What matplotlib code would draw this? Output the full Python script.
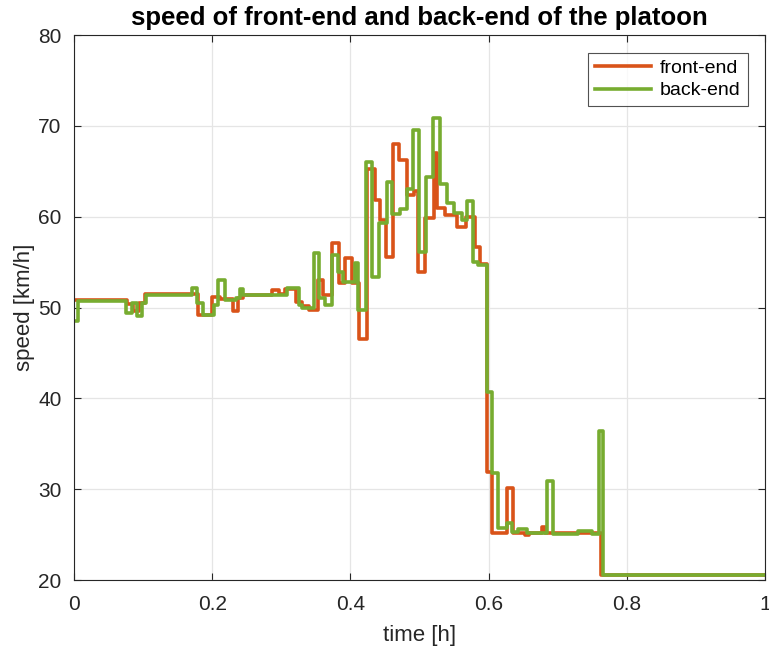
import matplotlib
matplotlib.use("Agg")
import matplotlib.pyplot as plt

plt.rcParams['font.family'] = ['Liberation Sans', 'DejaVu Sans']

# Speed of the leading vehicle (front-end), piecewise constant samples
front_t = [0.000, 0.077, 0.085, 0.094, 0.103, 0.180, 0.200, 0.212, 0.230, 0.237,
           0.244, 0.287, 0.297, 0.306, 0.322, 0.330, 0.340, 0.353, 0.360, 0.374,
           0.384, 0.392, 0.402, 0.412, 0.424, 0.436, 0.443, 0.451, 0.461, 0.470,
           0.482, 0.492, 0.498, 0.508, 0.521, 0.525, 0.537, 0.554, 0.568, 0.580,
           0.587, 0.597, 0.605, 0.627, 0.635, 0.652, 0.658, 0.677, 0.682, 0.763,
           1.000]
front_v = [50.8, 50.4, 49.6, 50.5, 51.5, 49.2, 51.2, 50.9, 49.6, 51.0,
           51.4, 51.9, 51.5, 52.0, 50.6, 50.2, 49.7, 53.0, 51.4, 57.1,
           52.7, 55.4, 52.7, 46.5, 65.2, 61.8, 59.6, 55.6, 68.0, 66.2,
           62.4, 62.8, 53.9, 59.9, 67.0, 61.0, 60.2, 58.9, 60.0, 56.7,
           54.8, 31.9, 25.2, 30.1, 25.2, 24.95, 25.2, 25.8, 25.2, 20.5,
           20.5]

# Speed of the last vehicle (back-end)
back_t = [0.000, 0.006, 0.075, 0.084, 0.091, 0.098, 0.104, 0.171, 0.178, 0.187,
          0.202, 0.208, 0.218, 0.235, 0.240, 0.245, 0.308, 0.325, 0.330, 0.347,
          0.355, 0.363, 0.373, 0.382, 0.389, 0.407, 0.411, 0.422, 0.431, 0.441,
          0.453, 0.460, 0.472, 0.482, 0.491, 0.499, 0.509, 0.520, 0.530, 0.540,
          0.550, 0.561, 0.569, 0.577, 0.585, 0.598, 0.605, 0.614, 0.627, 0.634,
          0.643, 0.656, 0.685, 0.693, 0.729, 0.750, 0.760, 0.766, 1.000]
back_v = [48.5, 50.7, 49.4, 50.5, 49.1, 50.5, 51.4, 52.1, 50.5, 49.2,
          50.3, 53.0, 50.8, 51.1, 52.0, 51.4, 52.1, 50.3, 50.0, 56.0,
          51.0, 50.3, 55.8, 53.9, 52.8, 54.9, 49.7, 66.0, 53.4, 59.3,
          63.8, 60.3, 60.8, 63.1, 69.5, 56.1, 64.4, 70.9, 63.6, 61.5,
          60.4, 59.6, 61.7, 55.0, 54.7, 40.7, 31.8, 25.7, 26.3, 25.3,
          25.6, 25.2, 30.9, 25.1, 25.4, 25.1, 36.4, 20.5, 20.5]

x_ticks = [0, 0.2, 0.4, 0.6, 0.8, 1]
x_tick_labels = ['0', '0.2', '0.4', '0.6', '0.8', '1']
y_ticks = [20, 30, 40, 50, 60, 70, 80]

fig = plt.figure(figsize=(7.69, 6.52), dpi=100)
ax = fig.add_axes([0.0962, 0.1104, 0.8986, 0.8359])

ax.plot(front_t, front_v, drawstyle='steps-post', color='#D95319',
        linewidth=2.6, label='front-end')
ax.plot(back_t, back_v, drawstyle='steps-post', color='#77AC30',
        linewidth=2.6, label='back-end')

ax.set_xlim(0, 1)
ax.set_ylim(20, 80)
ax.set_xticks(x_ticks)
ax.set_xticklabels(x_tick_labels)
ax.set_yticks(y_ticks)

ax.grid(True, color='#E5E5E5', linewidth=0.9)
ax.set_axisbelow(True)
for s in ax.spines.values():
    s.set_color('#262626')
    s.set_linewidth(0.8)
ax.tick_params(direction='in', top=True, right=True, length=5,
               color='#262626', labelsize=15, labelcolor='#262626')
ax.tick_params(axis='x', pad=11)
ax.tick_params(axis='y', pad=9)

ax.set_xlabel('time [h]', fontsize=16, color='#262626', labelpad=8)
ax.set_ylabel('speed [km/h]', fontsize=16, color='#262626', labelpad=2)
ax.set_title('speed of front-end and back-end of the platoon',
             fontsize=18.5, fontweight='bold', pad=7)

leg = ax.legend(loc='upper right', fontsize=14, frameon=True, fancybox=False,
                handlelength=2.9, borderaxespad=0.9, labelspacing=0.25,
                borderpad=0.35, handletextpad=0.45)
leg.get_frame().set_edgecolor('#262626')
leg.get_frame().set_linewidth(0.8)

fig.savefig('out.png', dpi=100)
